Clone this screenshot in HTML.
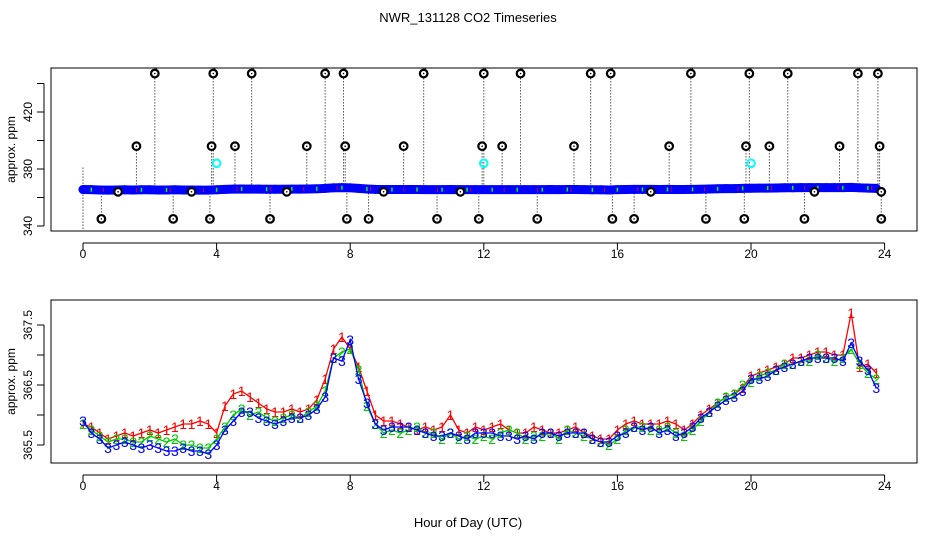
<!DOCTYPE html>
<html><head><meta charset="utf-8"><style>
html,body{margin:0;padding:0;background:#fff;}
svg{display:block;font-family:"Liberation Sans",sans-serif;}
</style></head><body>
<svg id="chart" width="936" height="540" viewBox="0 0 936 540" xmlns="http://www.w3.org/2000/svg">
<rect width="936" height="540" fill="#fff"/>
<text x="468" y="22" text-anchor="middle" font-size="13">NWR_131128  CO2 Timeseries</text>
<g id="top"></g>
<g id="bot"></g>
<text x="468" y="527" text-anchor="middle" font-size="13">Hour of Day (UTC)</text>
</svg>
<script>
// ---- data ----
const hours = [0,0.25,0.5,0.75,1,1.25,1.5,1.75,2,2.25,2.5,2.75,3,3.25,3.5,3.75,4,4.25,4.5,4.75,5,5.25,5.5,5.75,6,6.25,6.5,6.75,7,7.25,7.5,7.75,8,8.25,8.5,8.75,9,9.25,9.5,9.75,10,10.25,10.5,10.75,11,11.25,11.5,11.75,12,12.25,12.5,12.75,13,13.25,13.5,13.75,14,14.25,14.5,14.75,15,15.25,15.5,15.75,16,16.25,16.5,16.75,17,17.25,17.5,17.75,18,18.25,18.5,18.75,19,19.25,19.5,19.75,20,20.25,20.5,20.75,21,21.25,21.5,21.75,22,22.25,22.5,22.75,23,23.25,23.5,23.75];
const series3 = [365.9,365.7,365.6,365.45,365.5,365.55,365.5,365.45,365.5,365.45,365.4,365.4,365.45,365.4,365.4,365.35,365.5,365.75,365.9,366.05,366.05,365.95,365.9,365.85,365.9,365.95,365.95,366.0,366.1,366.3,366.95,366.9,367.25,366.6,366.2,365.85,365.75,365.8,365.8,365.8,365.75,365.7,365.65,365.65,365.7,365.65,365.6,365.7,365.7,365.7,365.65,365.65,365.6,365.65,365.6,365.7,365.7,365.65,365.7,365.7,365.7,365.6,365.55,365.55,365.65,365.7,365.8,365.75,365.8,365.7,365.75,365.65,365.7,365.8,365.95,366.05,366.15,366.25,366.3,366.4,366.6,366.6,366.65,366.75,366.8,366.85,366.9,366.95,366.95,366.95,366.95,366.9,367.2,366.9,366.75,366.45];
const series2 = [365.85,365.75,365.65,365.55,365.6,365.6,365.55,365.55,365.65,365.6,365.55,365.6,365.5,365.5,365.45,365.45,365.6,365.8,366.0,366.1,366.0,366.05,365.95,365.9,365.95,366.0,365.95,366.05,366.15,366.4,366.95,367.05,367.1,366.75,366.15,365.85,365.7,365.75,365.7,365.75,365.8,365.7,365.7,365.6,365.7,365.6,365.65,365.6,365.65,365.6,365.7,365.75,365.7,365.6,365.65,365.65,365.7,365.6,365.75,365.7,365.65,365.6,365.55,365.5,365.6,365.75,365.8,365.8,365.75,365.75,365.8,365.7,365.65,365.75,365.9,366.05,366.2,366.3,366.35,366.5,366.55,366.65,366.7,366.75,366.85,366.85,366.9,366.9,367.0,366.95,366.9,366.95,367.1,366.85,366.7,366.6];
const series1 = [365.85,365.8,365.7,365.6,365.65,365.7,365.65,365.7,365.75,365.7,365.75,365.8,365.85,365.85,365.9,365.85,365.7,366.15,366.35,366.4,366.3,366.2,366.1,366.05,366.05,366.1,366.05,366.1,366.25,366.6,367.1,367.3,367.1,366.8,366.4,366.0,365.9,365.9,365.85,365.8,365.75,365.8,365.75,365.8,366.0,365.75,365.7,365.8,365.75,365.8,365.85,365.75,365.7,365.7,365.8,365.75,365.7,365.7,365.75,365.8,365.7,365.65,365.6,365.6,365.75,365.85,365.9,365.85,365.85,365.85,365.9,365.85,365.75,365.85,366.0,366.1,366.2,366.3,366.35,366.45,366.65,366.7,366.75,366.8,366.85,366.95,366.95,367.0,367.05,367.05,367.0,367.0,367.7,366.8,366.85,366.7];
const topValues = [365.6,365.5,365.3,365.2,365.3,365.4,365.3,365.4,365.4,365.3,365.3,365.4,365.3,365.3,365.2,365.2,365.4,365.7,365.9,366.0,365.9,365.9,365.8,365.8,365.8,365.9,365.9,366.0,366.1,366.4,366.8,366.9,366.8,366.4,366.0,365.7,365.6,365.6,365.6,365.6,365.6,365.5,365.5,365.5,365.6,365.5,365.5,365.5,365.5,365.5,365.5,365.5,365.5,365.5,365.5,365.5,365.6,365.5,365.6,365.6,365.5,365.4,365.4,365.3,365.5,365.6,365.7,365.7,365.7,365.6,365.7,365.6,365.6,365.7,365.8,366.0,366.1,366.2,366.2,366.4,366.5,366.6,366.6,366.7,366.8,366.8,366.9,366.9,366.9,366.9,366.9,366.9,367.1,366.8,366.6,366.4];
const outlierHours = [2.15,3.9,5.05,7.25,7.8,10.2,12.0,13.1,15.2,15.8,18.2,19.95,21.1,23.2,23.8,1.6,3.85,4.55,6.7,7.85,9.6,11.95,12.55,14.7,17.55,19.85,20.55,22.65,23.85,0.55,2.7,3.8,5.6,7.9,8.55,10.6,11.85,13.6,15.85,16.5,18.65,19.8,21.6,23.9,1.05,3.25,6.1,9.0,11.3,17.0,21.9,23.9];
const outlierValues = [447,447,447,447,447,447,447,447,447,447,447,447,447,447,447,396,396,396,396,396,396,396,396,396,396,396,396,396,396,345,345,345,345,345,345,345,345,345,345,345,345,345,345,345,364,364,364,364,364,364,364,364];
const cyanHours = [4.0,12.0,20.0];
const cyanValues = [384,384,384];
const xTicks = [0,4,8,12,16,20,24];
const topYTicks = [340,360,380,400,420,440];
const topYLabels = ["340","","380","","420",""];
const botYTicks = [365.5,366,366.5,367,367.5];
const botYLabels = ["365.5","","366.5","","367.5"];

const NS="http://www.w3.org/2000/svg";
function mk(tag,attrs,parent){const e=document.createElementNS(NS,tag);for(const k in attrs)e.setAttribute(k,attrs[k]);parent.appendChild(e);return e;}
const xS = h => 83 + h*33.4;
const yT = v => 226 - (v-340)*1.425;
const yB = v => 445 - (v-365.5)*60;

function axes(g, top, bottom, yS, yTicks, yLabels, prefix){
  const box = mk('rect',{x:51,y:top,width:866,height:bottom-top,fill:'none',stroke:'#000','stroke-width':1},g);
  
  
  const xa = mk('line',{x1:xS(0),x2:xS(24),y1:bottom+12,y2:bottom+12,stroke:'#000'},g);
  
  
  xTicks.forEach(t=>{
    const l=mk('line',{x1:xS(t),x2:xS(t),y1:bottom+12,y2:bottom+19,stroke:'#000'},g);
    
    
    const tx=mk('text',{x:xS(t),y:bottom+27,'text-anchor':'middle','font-size':12},g);
    tx.textContent=t;
    
    
  });
  const ya = mk('line',{x1:44,x2:44,y1:yS(yTicks[0]),y2:yS(yTicks[yTicks.length-1]),stroke:'#000'},g);
  
  
  yTicks.forEach((t,i)=>{
    const l=mk('line',{x1:37,x2:44,y1:yS(t),y2:yS(t),stroke:'#000'},g);
    
    
    if(yLabels[i]){
      const tx=mk('text',{x:32,y:yS(t),'text-anchor':'middle','font-size':12,transform:`rotate(-90 32 ${yS(t)})`},g);
      tx.textContent=yLabels[i];
      
      
    }
  });
  const yt=mk('text',{x:15,y:(top+bottom)/2,'text-anchor':'middle','font-size':12,transform:`rotate(-90 15 ${(top+bottom)/2})`},g);
  yt.textContent='approx. ppm';
  
  
}

// ---- top panel ----
const gT=document.getElementById('top');
axes(gT,68,231,yT,topYTicks,topYLabels,'top');
outlierHours.forEach((h,i)=>{
  const v=outlierValues[i];
  const l=mk('line',{x1:xS(h),x2:xS(h),y1:yT(365),y2:yT(v),stroke:'#000','stroke-dasharray':'1,2'},gT);
  
  
  if(v>440){
    const l2=mk('line',{x1:xS(h)+1.5,x2:xS(h)+1.5,y1:68,y2:yT(v),stroke:'#000','stroke-dasharray':'1,2'},gT);
    
    
  }
});
mk('line',{x1:xS(0),x2:xS(0),y1:yT(381),y2:231,stroke:'#000','stroke-dasharray':'1,2'},gT);
const tl=mk('polyline',{points:hours.map((h,i)=>xS(h)+','+yT(topValues[i])).join(' '),fill:'none',stroke:'#0000ff','stroke-width':9,'stroke-linecap':'round'},gT);


hours.forEach((h,i)=>{
  const c=mk('circle',{cx:xS(h),cy:yT(topValues[i]),r:3.5,fill:'none',stroke:'#0000ff','stroke-width':2},gT);
  
  
  if(i%3===1){
    const g2=mk('line',{x1:xS(h),x2:xS(h),y1:yT(topValues[i])-2,y2:yT(topValues[i])+2,stroke:'#00ff00','stroke-width':1.5},gT);
    
    
  }
  if(i%4===2){
    const r2=mk('line',{x1:xS(h)+4,x2:xS(h)+4,y1:yT(topValues[i])-2,y2:yT(topValues[i])+2,stroke:'#ff0000','stroke-width':1.5},gT);
    
    
  }
});
outlierHours.forEach((h,i)=>{
  const c=mk('circle',{cx:xS(h),cy:yT(outlierValues[i]),r:3.8,fill:'#fff',stroke:'#000','stroke-width':2.2},gT);
  
  
  const d=mk('circle',{cx:xS(h),cy:yT(outlierValues[i]),r:0.8,fill:'#000'},gT);
});
cyanHours.forEach((h,i)=>{
  const c=mk('circle',{cx:xS(h),cy:yT(cyanValues[i]),r:3.8,fill:'none',stroke:'#00ffff','stroke-width':2},gT);
  
  
});

// ---- bottom panel ----
const gB=document.getElementById('bot');
axes(gB,300,463,yB,botYTicks,botYLabels,'bottom');
const seriesList=[[series1,'#ff0000','1'],[series2,'#00cc00','2'],[series3,'#0000ff','3']];
seriesList.forEach(([vals,col,lab])=>{
  const pl=mk('polyline',{points:hours.map((h,i)=>xS(h)+','+yB(vals[i])).join(' '),fill:'none',stroke:col,'stroke-width':1.3},gB);
  
  
  hours.forEach((h,i)=>{
    const t=mk('text',{x:xS(h),y:yB(vals[i])+5,'text-anchor':'middle','font-size':14,fill:col},gB);
    t.textContent=lab;
    
    
  });
});
</script>
</body></html>
